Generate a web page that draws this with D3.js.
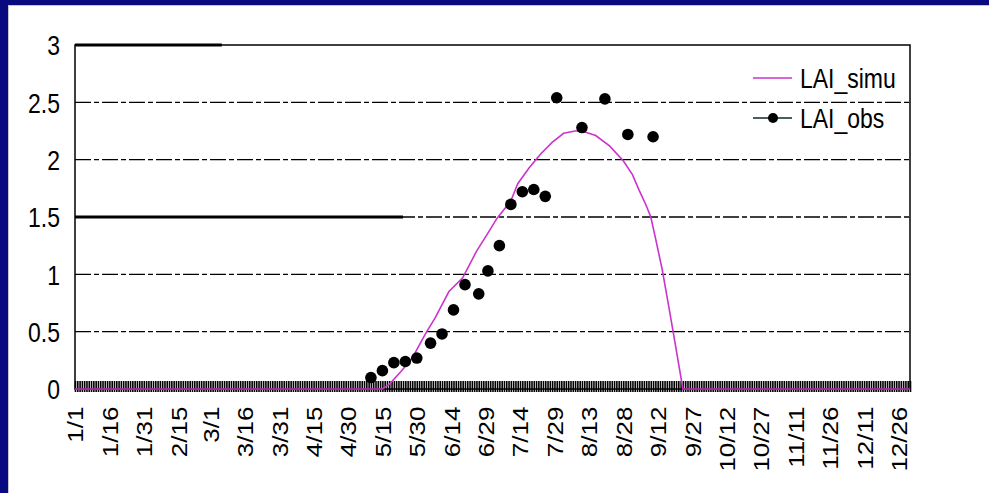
<!DOCTYPE html>
<html>
<head>
<meta charset="utf-8">
<script src="https://cdn.jsdelivr.net/npm/d3@7"></script>
<style>
    body { margin: 0; background: #fff; }
    text { font-family: "Liberation Sans", Arial, sans-serif; fill: #000; }
</style>
</head>
<body>
<svg id="chart" width="989" height="493"></svg>
<script>
// simulated LAI (pink line), dates are m/d of a non-leap year
const simuDates = ["1/1", "5/15", "5/18", "5/23", "5/28", "6/3", "6/7", "6/13", "6/19", "6/25",
    "6/30", "7/4", "7/10", "7/13", "7/18", "7/23", "7/28", "8/2", "8/7", "8/10", "8/16",
    "8/22", "8/28", "9/1", "9/4", "9/7", "9/9", "9/11", "9/14", "9/17", "9/19", "9/23", "12/31"];
const simuValues = [0, 0, 0.04, 0.15, 0.27, 0.49, 0.62, 0.85, 0.97, 1.2,
    1.36, 1.49, 1.64, 1.79, 1.93, 2.05, 2.15, 2.23, 2.25, 2.25, 2.21,
    2.12, 1.99, 1.87, 1.73, 1.6, 1.5, 1.32, 1.04, 0.7, 0.47, 0, 0];

// observed LAI (black dots)
const obsDates = ["5/10", "5/15", "5/20", "5/25", "5/30", "6/5", "6/10", "6/15", "6/20", "6/26",
    "6/30", "7/5", "7/10", "7/15", "7/20", "7/25", "7/30", "8/10", "8/20", "8/30", "9/10"];
const obsValues = [0.10, 0.16, 0.23, 0.24, 0.27, 0.40, 0.48, 0.69, 0.91, 0.83,
    1.03, 1.25, 1.61, 1.72, 1.74, 1.68, 2.54, 2.28, 2.53, 2.22, 2.20];

const xLabels = ["1/1", "1/16", "1/31", "2/15", "3/1", "3/16", "3/31", "4/15", "4/30", "5/15",
    "5/30", "6/14", "6/29", "7/14", "7/29", "8/13", "8/28", "9/12", "9/27", "10/12",
    "10/27", "11/11", "11/26", "12/11", "12/26"];
const yTicks = [0, 0.5, 1, 1.5, 2, 2.5, 3];

// heavier stretches of the gridlines seen in the picture
const heavyGrid = [{value: 3, from: "1/1", to: "3/6"}, {value: 1.5, from: "1/1", to: "5/24"}];

const seriesNames = ["LAI_simu", "LAI_obs"];

const year = 2001;
const parse = s => new Date(year, +s.split("/")[0] - 1, +s.split("/")[1]);

const plot = {left: 75, right: 910, top: 45, bottom: 389};
const colorSimu = "#cc33cc";
const colorObs = "#000";
const stretch = 1.18; // text in the picture is taller than wide

const svg = d3.select("#chart");

// navy window frame (left + top)
svg.append("rect").attr("x", 0).attr("y", 0).attr("width", 989).attr("height", 5).attr("fill", "#0a0a80");
svg.append("rect").attr("x", 0).attr("y", 0).attr("width", 8).attr("height", 493).attr("fill", "#0a0a80");
svg.append("line").attr("x1", 9).attr("x2", 989).attr("y1", 5.5).attr("y2", 5.5)
    .attr("stroke", "#c8c8c8");
svg.append("line").attr("x1", 8.5).attr("x2", 8.5).attr("y1", 5).attr("y2", 493)
    .attr("stroke", "#c8c8c8");

const x = d3.scaleTime()
    .domain([parse("1/1"), parse("12/31")])
    .range([plot.left, plot.right]);

const y = d3.scaleLinear()
    .domain([0, 3])
    .range([plot.bottom, plot.top]);

//gridlines
svg.append("g")
    .attr("class", "grid")
    .selectAll("line")
    .data(yTicks.filter(d => d > 0 && d < 3))
    .enter()
    .append("line")
    .attr("x1", plot.left)
    .attr("x2", plot.right)
    .attr("y1", d => y(d))
    .attr("y2", d => y(d))
    .attr("stroke", "#000")
    .attr("stroke-width", 1.3)
    .attr("stroke-dasharray", "16,3,5,3");

svg.append("g")
    .selectAll("line")
    .data(heavyGrid)
    .enter()
    .append("line")
    .attr("x1", d => x(parse(d.from)))
    .attr("x2", d => x(parse(d.to)))
    .attr("y1", d => y(d.value))
    .attr("y2", d => y(d.value))
    .attr("stroke", "#000")
    .attr("stroke-width", 3);

//plot area border
svg.append("rect")
    .attr("x", plot.left)
    .attr("y", plot.top)
    .attr("width", plot.right - plot.left)
    .attr("height", plot.bottom - plot.top)
    .attr("fill", "none")
    .attr("stroke", "#000")
    .attr("stroke-width", 1.5);

//y axis labels
const yAxis = svg.append("g")
    .attr("transform", `translate(${plot.left},0)`)
    .call(d3.axisLeft(y).tickValues(yTicks).tickSize(0).tickPadding(15)
        .tickFormat(d3.format("~g")));
yAxis.select(".domain").remove();
yAxis.selectAll("text")
    .attr("dy", "0.36em")
    .attr("transform", `scale(1,${stretch})`)
    .style("font-size", "23px")
    .style("font-family", "'Liberation Sans', Arial, sans-serif");

//daily tick band on the x axis
const dayTicks = svg.append("g")
    .attr("transform", `translate(0,${plot.bottom - 8})`)
    .call(d3.axisBottom(x).ticks(d3.timeDay.every(1)).tickSize(11).tickFormat(""));
dayTicks.select(".domain").remove();
dayTicks.selectAll("line").attr("stroke", "#000").attr("stroke-width", 1.6);

//x axis labels every 15 days
const xAxis = svg.append("g")
    .attr("transform", `translate(0,${plot.bottom})`)
    .call(d3.axisBottom(x).tickValues(xLabels.map(parse)).tickSize(0)
        .tickFormat(d3.timeFormat("%-m/%-d")));
xAxis.select(".domain").remove();
xAxis.selectAll("text")
    .attr("transform", `rotate(-90) scale(${stretch},1)`)
    .attr("x", -15)
    .attr("y", 0)
    .attr("dy", "0.36em")
    .attr("text-anchor", "end")
    .style("font-size", "22px")
    .style("font-family", "'Liberation Sans', Arial, sans-serif");

//simulated line
const simu = simuDates.map((d, i) => ({date: parse(d), value: simuValues[i]}));
svg.append("path")
    .datum(simu)
    .attr("fill", "none")
    .attr("stroke", colorSimu)
    .attr("stroke-width", 1.6)
    .attr("d", d3.line().x(d => x(d.date)).y(d => y(d.value)));

//observed points
const obs = obsDates.map((d, i) => ({date: parse(d), value: obsValues[i]}));
svg.append("g")
    .selectAll("circle")
    .data(obs)
    .enter()
    .append("circle")
    .attr("cx", d => x(d.date))
    .attr("cy", d => y(d.value))
    .attr("r", 5.8)
    .attr("fill", colorObs);

//legend
const legend = svg.append("g").attr("class", "legend");
const legendRows = legend.selectAll("g")
    .data(seriesNames)
    .enter()
    .append("g")
    .attr("transform", (d, i) => `translate(753,${78 + i * 40})`);
legendRows.append("line")
    .attr("x1", 0).attr("x2", 39)
    .attr("stroke", (d, i) => i === 0 ? colorSimu : "#0b2a2a")
    .attr("stroke-width", 1.6);
legendRows.filter((d, i) => i === 1)
    .append("circle")
    .attr("cx", 20).attr("r", 5)
    .attr("fill", "#000");
legendRows.append("text")
    .attr("x", 47)
    .attr("dy", "0.36em")
    .attr("transform", `scale(1,${stretch})`)
    .style("font-size", "23px")
    .text(d => d);
</script>
</body>
</html>
